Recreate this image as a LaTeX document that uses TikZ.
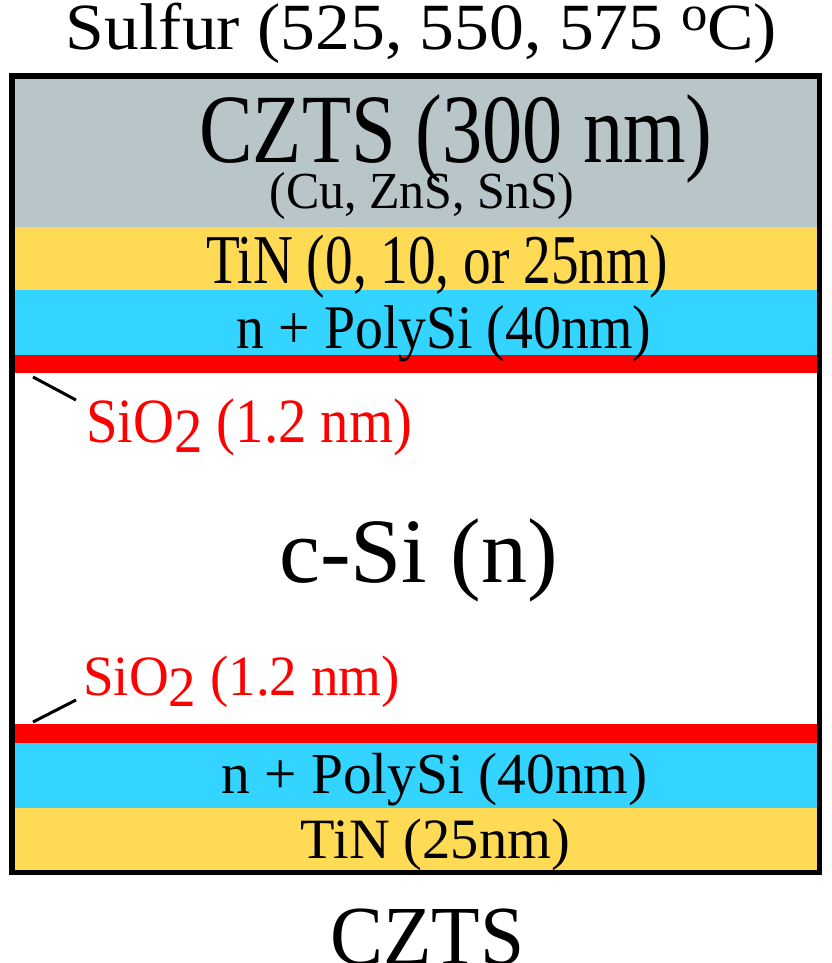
\documentclass[tikz,border=0pt]{standalone}
\usepackage{fontspec}
\setmainfont{Liberation Serif}
\usepackage{graphicx}
\definecolor{cztsgray}{HTML}{B8C5C9}
\definecolor{tinyellow}{HTML}{FFDA55}
\definecolor{polyblue}{HTML}{33D4FF}
\definecolor{oxred}{HTML}{FF0000}
\newcommand{\fs}[1]{\fontsize{#1}{#1}\selectfont}
\begin{document}
\begin{tikzpicture}[x=1pt,y=-1pt,
  txt/.style={inner sep=0pt, anchor=base},
  redtxt/.style={inner sep=0pt, anchor=base west, text=oxred},
  tick/.style={line width=3pt, black}]
\useasboundingbox (0,0) rectangle (831,963);
% layers
\fill[cztsgray] (12,76) rectangle (819.5,227);
\fill[tinyellow] (12,227) rectangle (819.5,290);
\fill[polyblue] (12,290) rectangle (819.5,355);
\fill[oxred] (12,355) rectangle (819.5,373);
\fill[oxred] (12,724) rectangle (819.5,743);
\fill[polyblue] (12,743) rectangle (819.5,808);
\fill[tinyellow] (12,808) rectangle (819.5,872);
\draw[line width=5.5pt] (12,76) rectangle (819.5,872.5);
% texts
\node[txt, font=\fs{66}] (sulfur) at (421.5,50) {\scalebox{1.055}[1]{Sulfur (525, 550, 575 \raisebox{19pt}{\fs{50}o}C)}};
\node[txt, font=\fs{98}] (czts) at (456,162) {\scalebox{0.82}[1]{CZTS (300 nm)}};
\node[txt, font=\fs{52}] (prec) at (422,208) {\scalebox{0.96}[1]{(Cu, ZnS, SnS)}};
\node[txt, font=\fs{70}] (tintop) at (437,283) {\scalebox{0.79}[1]{TiN (0, 10, or 25nm)}};
\node[txt, font=\fs{62}] (polytop) at (444,348) {\scalebox{0.9}[1]{n + PolySi (40nm)}};
\node[redtxt, font=\fs{63}] (oxtop) at (86,442) {\scalebox{0.9}[1]{SiO\raisebox{-10pt}{2} (1.2 nm)}};
\node[txt, font=\fs{92}] (csi) at (418.5,582) {c-Si (n)};
\node[redtxt, font=\fs{57}] (oxbot) at (83,695) {\scalebox{0.966}[1]{SiO\raisebox{-11pt}{2} (1.2 nm)}};
\node[txt, font=\fs{58}] (polybot) at (434.5,793) {\scalebox{0.99}[1]{n + PolySi (40nm)}};
\node[txt, font=\fs{57}] (tinbot) at (435.5,858) {\scalebox{0.99}[1]{TiN (25nm)}};
\node[txt, font=\fs{84}] (cztsbot) at (427.5,964) {\scalebox{0.945}[1]{CZTS}};
% leader ticks
\coordinate (t1a) at (33,377);
\coordinate (t1b) at (76,400);
\coordinate (t2a) at (33,722);
\coordinate (t2b) at (76,700);
\draw[tick] (t1a) -- (t1b);
\draw[tick] (t2a) -- (t2b);
\end{tikzpicture}
\end{document}
